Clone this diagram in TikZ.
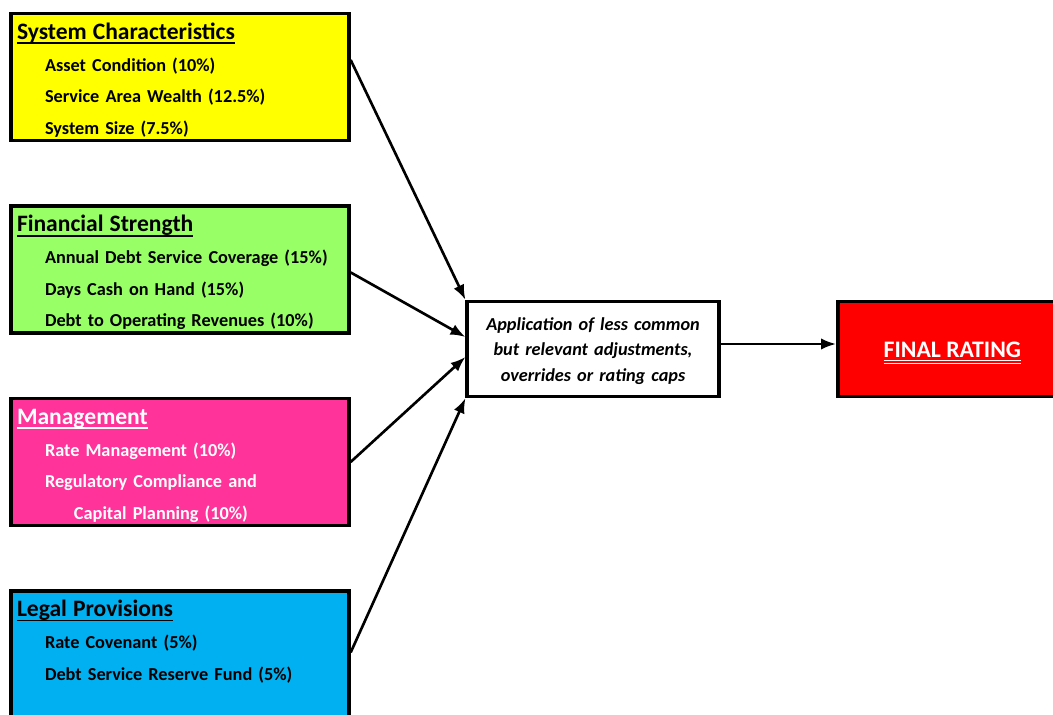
\documentclass[tikz,border=0pt]{standalone}
\usepackage{fontspec}
\setmainfont{Carlito}
\usepackage{xcolor}
\usepackage{tikz}
\usetikzlibrary{arrows.meta, positioning}
\definecolor{sysyellow}{HTML}{FFFF00}
\definecolor{fingreen}{HTML}{99FF66}
\definecolor{mgmtpink}{HTML}{FF3399}
\definecolor{legalblue}{HTML}{00B0F0}
\definecolor{ratingred}{HTML}{FF0000}
\newcommand{\factortitle}[1]{{\fontsize{13.4}{18}\selectfont\setbox0\hbox{#1}\rlap{\rule[-2.6pt]{\wd0}{0.9pt}}\box0}}
\newcommand{\dblunder}[1]{\setbox0\hbox{#1}\rlap{\rule[-2.2pt]{\wd0}{0.8pt}}\rlap{\rule[-4pt]{\wd0}{0.8pt}}\box0}
\tikzstyle{factor} = [rectangle, draw=black, line width=2pt, minimum width=6.76cm, text width=6.52cm, inner xsep=0.12cm, inner ysep=0.12cm, text height=0.40cm, text depth=1.90cm, align=left, font=\bfseries\fontsize{10.4}{18}\selectfont]
\tikzstyle{adjust} = [rectangle, draw=black, line width=2pt, fill=white, minimum width=5cm, minimum height=1.9cm, text width=4.8cm, text height=7.8pt, text depth=29.1pt, align=center, font=\bfseries\itshape\fontsize{10.4}{14.5}\selectfont]
\tikzstyle{rating} = [rectangle, draw=black, line width=2pt, fill=ratingred, minimum width=4.58cm, minimum height=1.9cm, text height=9.6pt, text depth=0.3pt, text=white, font=\bfseries\fontsize{13.5}{15}\selectfont]
\tikzstyle{arrow} = [line width=1.5pt, -{Latex[length=8.5pt, width=6.5pt]}]

\begin{document}
\begin{tikzpicture}[x=0.02cm, y=-0.02cm]
        \useasboundingbox (0,0) rectangle (1053,715);
        % Nodes
        \node [factor, fill=sysyellow, anchor=north west] (syschar) at (9.25,11.75) {\factortitle{System Characteristics}\\
            \hspace*{0.56cm}Asset Condition (10\%)\\
            \hspace*{0.56cm}Service Area Wealth (12.5\%)\\
            \hspace*{0.56cm}System Size (7.5\%)};
        \node [factor, fill=fingreen, below=1.24cm of syschar] (finstrength) {\factortitle{Financial Strength}\\
            \hspace*{0.56cm}Annual Debt Service Coverage (15\%)\\
            \hspace*{0.56cm}Days Cash on Hand (15\%)\\
            \hspace*{0.56cm}Debt to Operating Revenues (10\%)};
        \node [factor, fill=mgmtpink, text=white, below=1.24cm of finstrength] (mgmt) {\factortitle{Management}\\
            \hspace*{0.56cm}Rate Management (10\%)\\
            \hspace*{0.56cm}Regulatory Compliance and\\
            \hspace*{1.14cm}Capital Planning (10\%)};
        \node [factor, fill=legalblue, below=1.24cm of mgmt] (legal) {\factortitle{Legal Provisions}\\
            \hspace*{0.56cm}Rate Covenant (5\%)\\
            \hspace*{0.56cm}Debt Service Reserve Fund (5\%)};
        \node [adjust] (adjust) at (593,349) {Application of less common\\ but relevant adjustments,\\ overrides or rating caps};
        \node [rating, right=2.31cm of adjust] (final) {\dblunder{FINAL RATING}};

        % Arrows
        \draw [arrow] ([yshift=0.34cm]syschar.east) -- (adjust.north west);
        \draw [arrow] ([yshift=-0.06cm]finstrength.east) -- ([yshift=0.24cm]adjust.west);
        \draw [arrow] (mgmt.east) -- ([yshift=-0.16cm]adjust.west);
        \draw [arrow] ([yshift=0.04cm]legal.east) -- (adjust.south west);
        \draw [arrow] ([yshift=0.1cm]adjust.east) -- ([yshift=0.1cm]final.west);
    \end{tikzpicture}
\end{document}
